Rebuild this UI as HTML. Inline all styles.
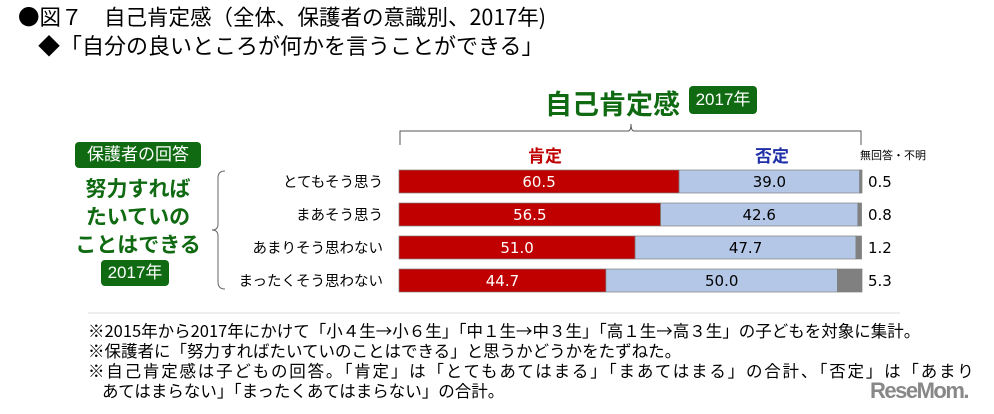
<!DOCTYPE html>
<html><head><meta charset="utf-8">
<style>
body{margin:0;width:994px;height:414px;background:#fff;overflow:hidden;position:relative;font-family:"Liberation Sans","Noto Sans CJK JP",sans-serif;}
.a{position:absolute;white-space:nowrap;}
.t{font-size:21.5px;color:#000;font-family:"Noto Sans CJK JP",sans-serif;line-height:24px;}
.n{font-size:16.5px;color:#000;left:88px;font-family:"Noto Sans CJK JP",sans-serif;line-height:20px;}
.badge{position:absolute;background:#0f6a12;color:#fff;border-radius:4px;text-align:center;}
</style></head><body>
<div class="a t" style="left:18px;top:5px;">●図７　自己肯定感（全体、保護者の意識別、2017年)</div>
<div class="a t" style="left:38px;top:33px;font-size:22px;">◆「自分の良いところが何かを言うことができる」</div>

<div class="a" style="left:545px;top:83px;font-size:27px;font-weight:bold;color:#0f6a12;">自己肯定感</div>
<div class="badge" style="left:689px;top:86px;width:68px;height:28px;line-height:28px;font-size:17px;">2017年</div>

<div class="badge" style="left:75px;top:142px;width:126px;height:26px;line-height:26px;font-size:17px;">保護者の回答</div>
<div class="a" style="left:60px;top:176px;width:156px;text-align:center;font-size:21px;font-weight:bold;color:#0f6a12;line-height:28px;">努力すれば<br>たいていの<br>ことはできる</div>
<div class="badge" style="left:101px;top:260px;width:68px;height:26px;line-height:26px;font-size:17px;">2017年</div>

<svg class="a" style="left:0;top:0" width="994" height="414">
<path d="M400,145 V131 H628 Q631,131 631,124 Q631,131 634,131 H861 V145" fill="none" stroke="#555" stroke-width="1"/>
<path d="M225,171 Q218,171 218,178 V224 Q218,230 212,230 Q218,230 218,236 V282 Q218,289 225,289" fill="none" stroke="#666" stroke-width="1"/>
<line x1="88" y1="313" x2="900" y2="313" stroke="#ddd"/>
<text x="545" y="162" font-size="17" font-weight="bold" fill="#c00000" text-anchor="middle">肯定</text>
<text x="772" y="162" font-size="17" font-weight="bold" fill="#1f2fa8" text-anchor="middle">否定</text>
<text x="893" y="159" font-size="11" fill="#000" text-anchor="middle">無回答・不明</text>
<g id="bars"></g>
</svg>

<div class="a n" style="top:320px;">※2015年から2017年にかけて「小４生→小６生」「中１生→中３生」「高１生→高３生」の子どもを対象に集計。</div>
<div class="a n" style="top:340px;">※保護者に「努力すればたいていのことはできる」と思うかどうかをたずねた。</div>
<div class="a n" style="top:360px;letter-spacing:1.8px;">※自己肯定感は子どもの回答。「肯定」は「とてもあてはまる」「まあてはまる」の合計、「否定」は「あまり</div>
<div class="a n" style="top:380px;left:102px;">あてはまらない」「まったくあてはまらない」の合計。</div>
<div class="a" style="left:870px;top:378px;font-size:22px;font-weight:bold;color:#888;letter-spacing:-1.5px;">ReseMom.</div>

<script>
const categories=["とてもそう思う","まあそう思う","あまりそう思わない","まったくそう思わない"];
const positive=[60.5,56.5,51.0,44.7];
const negative=[39.0,42.6,47.7,50.0];
const noAnswer=[0.5,0.8,1.2,5.3];
const x0=399,W=463,y0=170,step=33,bh=23;
const xs=v=>v*W/100;
const g=document.getElementById('bars');
const NS='http://www.w3.org/2000/svg';
function rect(x,y,w,h,fill,name){const r=document.createElementNS(NS,'rect');r.setAttribute('x',x);r.setAttribute('y',y);r.setAttribute('width',w);r.setAttribute('height',h);r.setAttribute('fill',fill);r.setAttribute('stroke','#7f7f7f');r.setAttribute('stroke-width','0.7');


g.appendChild(r);}
function txt(x,y,s,fill,anchor,name,size,fam){const t=document.createElementNS(NS,'text');t.setAttribute('x',x);t.setAttribute('y',y);t.setAttribute('fill',fill);t.setAttribute('font-size',size);t.setAttribute('text-anchor',anchor);if(fam)t.setAttribute('font-family',fam);t.textContent=s;


g.appendChild(t);}
const cj='Noto Sans CJK JP, sans-serif';
categories.forEach((c,i)=>{
 const y=y0+i*step;
 const wp=xs(positive[i]),wn=xs(negative[i]),wa=xs(noAnswer[i]);
 rect(x0,y,wp,bh,'#c00000','bar-positive');
 rect(x0+wp,y,wn,bh,'#b4c7e7','bar-negative');
 rect(x0+wp+wn,y,wa,bh,'#808080','bar-no-answer');
 txt(x0+wp/2,y+17,positive[i].toFixed(1),'#fff','middle','value-positive',15,'DejaVu Sans, sans-serif');
 txt(x0+wp+wn/2,y+17,negative[i].toFixed(1),'#000','middle','value-negative',15,'DejaVu Sans, sans-serif');
 txt(868,y+17,noAnswer[i].toFixed(1),'#000','start','value-no-answer',15,'DejaVu Sans, sans-serif');
 txt(383,y+17,c,'#000','end','category-label',14.5,cj);
});
</script>
</body></html>
